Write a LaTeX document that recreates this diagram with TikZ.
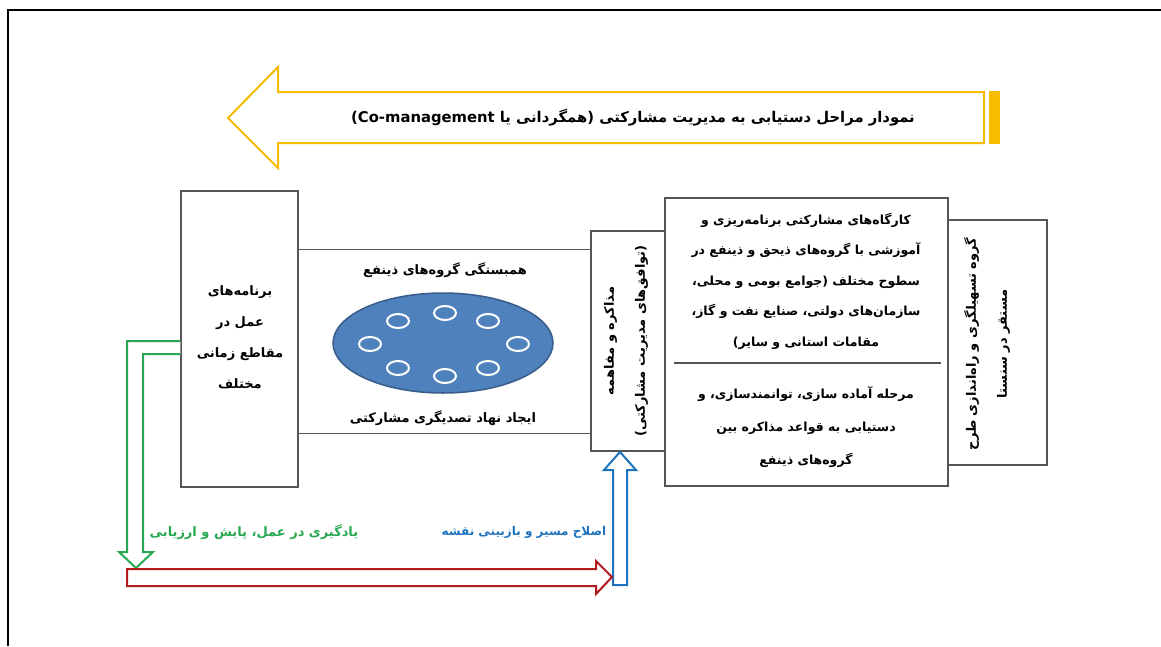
\documentclass[tikz,border=0pt]{standalone}
\usepackage{fontspec}
\newfontfamily\fa[Script=Arabic]{DejaVu Sans}
\TeXXeTstate=1
\newcommand\faline[1]{\beginR #1\endR}
\definecolor{arrowyellow}{RGB}{245,188,0}
\definecolor{arrowgreen}{RGB}{40,168,80}
\definecolor{arrowred}{RGB}{180,25,30}
\definecolor{arrowblue}{RGB}{30,115,190}
\definecolor{boxgray}{RGB}{85,85,85}
\definecolor{poolblue}{RGB}{79,129,189}
\definecolor{pooledge}{RGB}{56,93,138}

\begin{document}
\begin{tikzpicture}[x=1pt,y=-1pt,
  box/.style={draw=boxgray, line width=1.3pt, fill=white, inner sep=0pt},
  txt/.style={font=\fa\bfseries\fontsize{13}{31}\selectfont, align=center, inner sep=0pt},
  blockarrow/.style={line width=2pt, fill=white, line join=miter}]
\useasboundingbox (0,0) rectangle (1161,646);
% Frame
\draw[line width=1.5pt] (8,646) -- (8,10) -- (1161,10);
% Title arrow
\filldraw[blockarrow, draw=arrowyellow] (984,92) -- (278,92) -- (278,67) -- (228,118) -- (278,168) -- (278,143) -- (984,143) -- cycle;
\fill[arrowyellow] (989,91) rectangle (1000,144);
\node[txt, font=\fa\bfseries\fontsize{14.8}{20}\selectfont] (title) at (633,118)
  {\faline{نمودار مراحل دستیابی به مدیریت مشارکتی (همگردانی یا \beginL Co-management\endL)}};
% Action plans
\node[box, minimum width=117, minimum height=296] (plans) at (239.5,339) {};
\node[txt] (planstxt) at (240,337)
  {\faline{برنامه‌های}\\\faline{عمل در}\\\faline{مقاطع زمانی}\\\faline{مختلف}};
% Middle band
\node[minimum width=292, minimum height=183, inner sep=0pt] (band) at (444,341.5) {};
\draw[boxgray, line width=1.3pt] (band.north west) -- (band.north east);
\draw[boxgray, line width=1.3pt] (band.south west) -- (band.south east);
\node[txt] (unity) at (445,270) {\faline{همبستگی گروه‌های ذینفع}};
\filldraw[fill=poolblue, draw=pooledge, line width=1.5pt] (443,343) ellipse [x radius=110, y radius=50];
\foreach \px/\py in {445/313, 398/321, 488/321, 370/344, 518/344, 398/368, 488/368, 445/376}
  \draw[white, line width=2pt] (\px,\py) ellipse [x radius=11, y radius=7];
\node[txt] (body) at (443,418) {\faline{ایجاد نهاد تصدیگری مشارکتی}};
% Negotiation
\node[box, minimum width=74, minimum height=220] (nego) at (628,341) {};
\node[txt, rotate=90] (negotxt) at (626,341)
  {\faline{مذاکره و مفاهمه}\\\faline{(توافق‌های مدیریت مشارکتی)}};
% Facilitation group
\node[box, minimum width=99, minimum height=245] (group) at (997.5,342.5) {};
\node[txt, rotate=90] (grouptxt) at (987,344)
  {\faline{گروه تسهیلگری و راه‌اندازی طرح}\\\faline{مستقر در سنستا}};
% Workshops
\node[box, minimum width=283, minimum height=288] (shops) at (806.5,342) {};
\node[txt, font=\fa\bfseries\fontsize{12.5}{30.5}\selectfont] (shopstxt) at (806,281)
  {\faline{کارگاه‌های مشارکتی برنامه‌ریزی و}\\
   \faline{آموزشی با گروه‌های ذیحق و ذینفع در}\\
   \faline{سطوح مختلف (جوامع بومی و محلی،}\\
   \faline{سازمان‌های دولتی، صنایع نفت و گاز،}\\
   \faline{مقامات استانی و سایر)}};
\draw[boxgray, line width=1.3pt] ([xshift=10]shops.west |- 0,363) -- ([xshift=-8]shops.east |- 0,363);
\node[txt, font=\fa\bfseries\fontsize{12.5}{33}\selectfont] (prep) at (806,427)
  {\faline{مرحله آماده سازی، توانمندسازی، و}\\
   \faline{دستیابی به قواعد مذاکره بین}\\
   \faline{گروه‌های ذینفع}};
% Feedback arrows
\coordinate (loopin) at (plans.west |- 0,341);
\coordinate (loopout) at (plans.west |- 0,354);
\filldraw[blockarrow, draw=arrowgreen] (loopin) -- (127,341) -- (127,552) -- (119,552) -- (136,568) -- (153,552) -- (143,552) -- (143,354) -- (loopout);
\filldraw[blockarrow, draw=arrowblue] (613,585) -- (613,470) -- (604,470) -- (620,452) -- (636,470) -- (627,470) -- (627,585) -- cycle;
\filldraw[blockarrow, draw=arrowred] (127,569) -- (596,569) -- (596,561) -- (612,577) -- (596,594) -- (596,586) -- (127,586) -- cycle;
\node[txt, text=arrowgreen] (learn) at (254,532) {\faline{یادگیری در عمل، پایش و ارزیابی}};
\node[txt, text=arrowblue, font=\fa\bfseries\fontsize{12}{31}\selectfont] (revise) at (524,532) {\faline{اصلاح مسیر و بازبینی نقشه}};
\end{tikzpicture}
\end{document}
